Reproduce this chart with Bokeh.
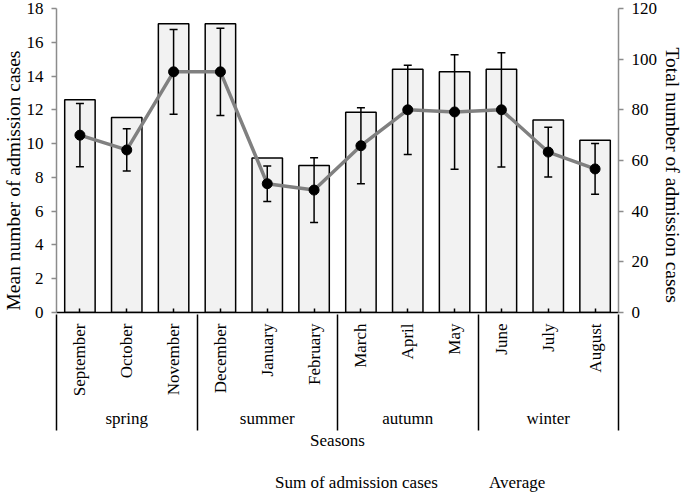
from bokeh.plotting import figure
from bokeh.layouts import column
from bokeh.models import (ColumnDataSource, Range1d, LinearAxis, SingleIntervalTicker,
                          FixedTicker, Whisker, TeeHead, Legend, LegendItem, Title)
from bokeh.embed import file_html
from bokeh.resources import INLINE
import math

# ---------------- data ----------------
months = ["September", "October", "November", "December", "January", "February",
          "March", "April", "May", "June", "July", "August"]
seasons = ["spring", "summer", "autumn", "winter"]
totals = [84, 77, 114, 114, 61, 58, 79, 96, 95, 96, 76, 68]
means = [10.5, 9.625, 14.25, 14.25, 7.625, 7.25, 9.875, 12.0, 11.875, 12.0, 9.5, 8.5]
sds = [1.87, 1.25, 2.51, 2.58, 1.05, 1.92, 2.25, 2.64, 3.39, 3.38, 1.47, 1.5]
left_ticks_max = 18
right_ticks_max = 120

FONT_NAME = "Liberation Serif"

n = len(months)
group = 3
xs = [i + 0.5 for i in range(n)]
season_x = [g * group + group / 2 for g in range(len(seasons))]
div_x = [g * group for g in range(len(seasons) + 1)]

src = ColumnDataSource(dict(
    x=xs, total=totals, mean=means,
    upper=[m + s for m, s in zip(means, sds)],
    lower=[m - s for m, s in zip(means, sds)],
))

BAR_STYLE = dict(fill_color="#f2f2f2", line_color="black", line_width=1.5)
LINE_STYLE = dict(line_color="#808080", line_width=3.5)
DOT_STYLE = dict(size=10, fill_color="black", line_color="black")

p = figure(width=685, height=452, output_backend="svg", toolbar_location=None,
           x_range=Range1d(0, n), y_range=Range1d(0, left_ticks_max),
           min_border_top=8, min_border_bottom=0, min_border_left=5, min_border_right=5,
           x_axis_location=None, y_axis_location=None)
p.extra_y_ranges = {"total": Range1d(0, right_ticks_max)}
p.grid.visible = False
p.outline_line_color = None
p.background_fill_color = "white"
p.border_fill_color = "white"


def style_text(ax):
    ax.major_label_text_font = FONT_NAME
    ax.major_label_text_font_size = "17px"
    ax.major_label_text_color = "black"
    ax.axis_label_text_font = FONT_NAME
    ax.axis_label_text_font_size = "17px"
    ax.axis_label_text_font_style = "normal"
    ax.axis_label_text_color = "black"


def style_value_axis(ax):
    style_text(ax)
    ax.major_label_standoff = 8
    ax.axis_line_color = "#8c8c8c"
    ax.axis_line_width = 1.5
    ax.major_tick_line_color = "#8c8c8c"
    ax.major_tick_line_width = 1.5
    ax.major_tick_out = 5
    ax.major_tick_in = 0
    ax.minor_tick_line_color = None


left_ax = LinearAxis(ticker=SingleIntervalTicker(interval=2))
style_value_axis(left_ax)
p.add_layout(left_ax, "left")

right_ax = LinearAxis(y_range_name="total", ticker=SingleIntervalTicker(interval=20))
style_value_axis(right_ax)
p.add_layout(right_ax, "right")

# axis titles (side titles so that they can be placed along the 0..18 span)
p.add_layout(Title(text="Mean number of admission cases", align="left", offset=2,
                   standoff=0, text_font=FONT_NAME, text_font_size="19.5px",
                   text_font_style="normal", text_color="black"), "left")
p.add_layout(Title(text="Total number of admission cases", align="left", offset=39,
                   standoff=2, text_font=FONT_NAME, text_font_size="19.5px",
                   text_font_style="normal", text_color="black"), "right")

# 1) month axis: month names and short inner ticks
month_ax = LinearAxis(ticker=FixedTicker(ticks=xs, minor_ticks=[]),
                      major_label_overrides={x: m for x, m in zip(xs, months)})
style_text(month_ax)
month_ax.major_label_orientation = math.pi / 2
month_ax.major_label_standoff = 11
month_ax.axis_line_color = "black"
month_ax.axis_line_width = 1.5
month_ax.major_tick_line_color = "black"
month_ax.major_tick_line_width = 1.5
month_ax.major_tick_in = 4
month_ax.major_tick_out = 0
month_ax.minor_tick_line_color = None
p.add_layout(month_ax, "below")

# 2) season names
season_ax = LinearAxis(ticker=FixedTicker(ticks=season_x, minor_ticks=[]),
                       major_label_overrides={x: s for x, s in zip(season_x, seasons)})
style_text(season_ax)
season_ax.major_label_standoff = 9
season_ax.axis_line_color = None
season_ax.major_tick_line_color = None
season_ax.major_tick_out = 0
season_ax.major_tick_in = 0
season_ax.minor_tick_line_color = None
p.add_layout(season_ax, "below")

# 3) group dividers (ticks reaching up to the baseline) and the "Seasons" title
div_ax = LinearAxis(ticker=FixedTicker(ticks=div_x, minor_ticks=[]),
                    major_label_overrides={x: "" for x in div_x})
style_text(div_ax)
div_ax.major_label_text_font_size = "1px"
div_ax.major_label_standoff = 0
div_ax.axis_label = "Seasons"
div_ax.axis_label_standoff = 0
div_ax.axis_line_color = None
div_ax.major_tick_line_color = "black"
div_ax.major_tick_line_width = 1.5
div_ax.major_tick_in = 116
div_ax.major_tick_out = 0
div_ax.minor_tick_line_color = None
p.add_layout(div_ax, "below")

# bars (right axis)
p.vbar(x="x", top="total", bottom=0, width=0.65, source=src, y_range_name="total",
       **BAR_STYLE)

# average line + error bars + dots
p.line(x="x", y="mean", source=src, **LINE_STYLE)
whisk = Whisker(base="x", upper="upper", lower="lower", source=src, level="glyph",
                line_color="black", line_width=1.5,
                upper_head=TeeHead(size=8, line_color="black", line_width=1.5),
                lower_head=TeeHead(size=8, line_color="black", line_width=1.5))
p.add_layout(whisk)
p.scatter(x="x", y="mean", source=src, **DOT_STYLE)

# ---------------- legend strip (separate small figure under the chart) ----------------
lg = figure(width=685, height=43, output_backend="svg", toolbar_location=None,
            x_range=Range1d(0, 1), y_range=Range1d(0, 1),
            min_border_top=0, min_border_bottom=0, min_border_left=0, min_border_right=0,
            x_axis_location=None, y_axis_location=None)
lg.grid.visible = False
lg.outline_line_color = None
lg.background_fill_color = "white"
lg.border_fill_color = "white"
empty = ColumnDataSource(dict(x=[], y=[], top=[]))
lbar = lg.vbar(x="x", top="top", width=0.1, source=empty, **BAR_STYLE)
lline = lg.line(x="x", y="y", source=empty, **LINE_STYLE)
ldot = lg.scatter(x="x", y="y", source=empty, **DOT_STYLE)

legend = Legend(items=[LegendItem(label="Sum of admission cases", renderers=[lbar]),
                       LegendItem(label="Average", renderers=[lline, ldot])],
                orientation="horizontal", location=(190, 2),
                glyph_width=28, glyph_height=11, label_height=14, label_standoff=1,
                spacing=22, padding=2, margin=0,
                label_text_font=FONT_NAME, label_text_font_size="17px",
                label_text_color="black", background_fill_alpha=0,
                border_line_color=None)
lg.add_layout(legend, "center")

layout = column(p, lg, spacing=0)
open("out.html", "w").write(file_html(layout, INLINE))
